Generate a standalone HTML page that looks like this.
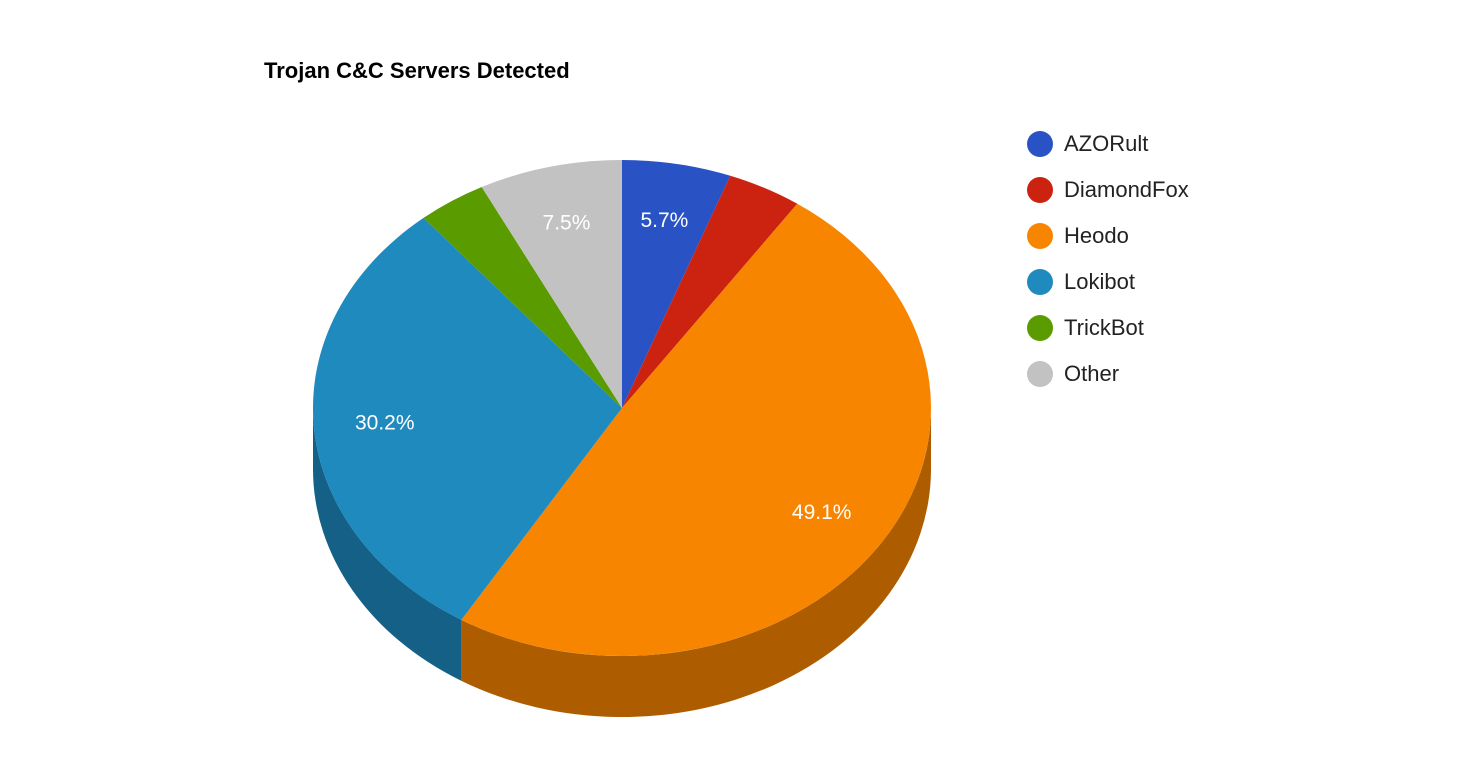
<!DOCTYPE html>
<html><head><meta charset="utf-8"><style>
body{margin:0;background:#fff;width:1482px;height:778px;overflow:hidden;font-family:"Liberation Sans",Arial,sans-serif}
</style></head><body>
<svg id="chart" width="1482" height="778" xmlns="http://www.w3.org/2000/svg">
<text x="264" y="78" font-size="22" font-weight="bold" fill="#000">Trojan C&amp;C Servers Detected</text>
<g id="sides"></g><g id="tops"></g><g id="labels"></g><g id="legend"></g>
</svg>
<script>
const categories = ["AZORult","DiamondFox","Heodo","Lokibot","TrickBot","Other"];
const values = [5.7,3.9,49.1,30.2,3.6,7.5];
const printed = ["5.7%","","49.1%","30.2%","","7.5%"];
const colors = ["#2952c4","#cc2311","#f88500","#1f8abe","#5a9c00","#c2c2c2"];
const sideColors = ["#1c3a8a","#8f180c","#ad5d00","#156087","#3f6d00","#888888"];
const cx=622, cy=408, rx=309, ry=248, depth=61;
const NS="http://www.w3.org/2000/svg";
function pt(a,dy){return [cx+rx*Math.sin(a), cy-ry*Math.cos(a)+(dy||0)];}
const total=values.reduce((s,v)=>s+v,0);
const sides=document.getElementById('sides'), tops=document.getElementById('tops'), labels=document.getElementById('labels'), legend=document.getElementById('legend');
let acc=0;
values.forEach((v,i)=>{
  const a=acc/total*2*Math.PI, b=(acc+v)/total*2*Math.PI; acc+=v;
  // side wall for front half (pi/2..3pi/2)
  const s=Math.max(a,Math.PI/2), e=Math.min(b,3*Math.PI/2);
  if(e>s){
    const p1=pt(s),p2=pt(e),p3=pt(e,depth),p4=pt(s,depth);
    const side=document.createElementNS(NS,'path');
    side.setAttribute('d',`M${p1} A${rx} ${ry} 0 0 1 ${p2} L${p3} A${rx} ${ry} 0 0 0 ${p4} Z`);
    side.setAttribute('fill',sideColors[i]);
    
    
    sides.appendChild(side);
  }
  const pa=pt(a),pb=pt(b);
  const large=(b-a)>Math.PI?1:0;
  const top=document.createElementNS(NS,'path');
  top.setAttribute('d',`M${cx},${cy} L${pa} A${rx} ${ry} 0 ${large} 1 ${pb} Z`);
  top.setAttribute('fill',colors[i]);
  
  
  tops.appendChild(top);
  if(printed[i]){
    const m=(a+b)/2, r=0.77;
    const t=document.createElementNS(NS,'text');
    t.setAttribute('x',cx+rx*r*Math.sin(m));
    t.setAttribute('y',cy-ry*r*Math.cos(m)+7);
    t.setAttribute('text-anchor','middle');
    t.setAttribute('font-size','21');
    t.setAttribute('fill','#fff');
    
    
    t.textContent=printed[i];
    labels.appendChild(t);
  }
  const g=document.createElementNS(NS,'g');
  
  
  const c=document.createElementNS(NS,'circle');
  c.setAttribute('cx',1040);c.setAttribute('cy',144+i*46);c.setAttribute('r',13);c.setAttribute('fill',colors[i]);
  
  
  const lt=document.createElementNS(NS,'text');
  lt.setAttribute('x',1064);lt.setAttribute('y',151+i*46);lt.setAttribute('font-size','22');lt.setAttribute('fill','#222');
  
  
  lt.textContent=categories[i];
  g.appendChild(c);g.appendChild(lt);legend.appendChild(g);
});
</script>
</body></html>
